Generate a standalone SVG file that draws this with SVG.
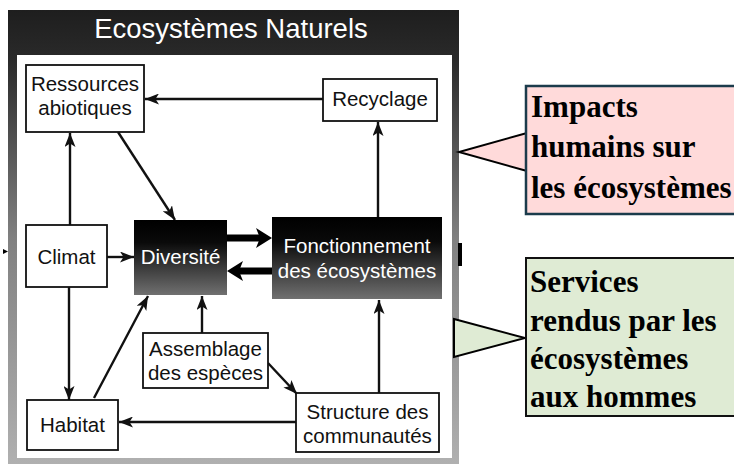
<svg xmlns="http://www.w3.org/2000/svg" width="734" height="464" viewBox="0 0 734 464">
<style>
.box{fill:#fff;stroke:#111;stroke-width:1.8}
.lbl{font-family:"Liberation Sans",Arial,sans-serif;font-size:20.5px;fill:#111;text-anchor:middle}
.wl{font-family:"Liberation Sans",Arial,sans-serif;font-size:20.5px;fill:#fff;text-anchor:middle}
.ln{stroke:#111;stroke-width:2.4;fill:none;marker-end:url(#ah)}
.tk{stroke:#000;stroke-width:7;fill:none;marker-end:url(#ahk)}
.call{font-family:"Liberation Serif","Times New Roman",serif;font-size:31px;font-weight:bold;fill:#000}
</style>
<defs>
<linearGradient id="frame" x1="0" y1="0" x2="0" y2="1">
<stop offset="0" stop-color="#1e1e1e"/>
<stop offset="0.11" stop-color="#2a2a2a"/>
<stop offset="0.5" stop-color="#808080"/>
<stop offset="1" stop-color="#b0b0b0"/>
</linearGradient>
<linearGradient id="dark" x1="0" y1="0" x2="0" y2="1">
<stop offset="0" stop-color="#000"/>
<stop offset="0.3" stop-color="#0a0a0a"/>
<stop offset="1" stop-color="#707070"/>
</linearGradient>
<marker id="ah" viewBox="0 0 14 11" refX="14" refY="5.5" markerWidth="14" markerHeight="11" orient="auto" markerUnits="userSpaceOnUse">
<path d="M0,0 L14,5.5 L0,11 L3.5,5.5 z" fill="#111"/>
</marker>
<marker id="ahk" viewBox="0 0 16 20" refX="8" refY="10" markerWidth="16" markerHeight="20" orient="auto" markerUnits="userSpaceOnUse">
<path d="M0,0 L16,10 L0,20 L4,10 z" fill="#000"/>
</marker>
</defs>
<rect width="734" height="464" fill="#fff"/>

<g id="frame-group">
<rect x="8" y="10" width="451" height="454" fill="url(#frame)"/>
<rect x="17" y="55" width="435" height="403" fill="#fff"/>
<text x="231" y="38" font-family="'Liberation Sans',Arial,sans-serif" font-size="27.5" fill="#fff" text-anchor="middle">Ecosystèmes Naturels</text>
<path d="M3,249 L8,251.5 L3,254 z" fill="#000"/>
<rect x="458" y="243" width="4" height="23" fill="#000"/>
</g>

<g id="connectors">
<line class="ln" x1="323" y1="99" x2="145" y2="99"/>
<line class="ln" x1="378" y1="217" x2="378" y2="122"/>
<line class="ln" x1="118" y1="132" x2="175" y2="220"/>
<line class="ln" x1="70" y1="225" x2="70" y2="133"/>
<line class="ln" x1="107" y1="257" x2="134" y2="257"/>
<line class="ln" x1="69" y1="287" x2="69" y2="400"/>
<line class="ln" x1="94" y1="398" x2="148" y2="296"/>
<line class="ln" x1="202" y1="333" x2="202" y2="296"/>
<line class="ln" x1="268" y1="363" x2="297" y2="394"/>
<line class="ln" x1="379" y1="393" x2="379" y2="300"/>
<line class="ln" x1="296" y1="422" x2="119" y2="422"/>
<line class="tk" x1="227" y1="238" x2="264" y2="238"/>
<line class="tk" x1="272" y1="271" x2="235" y2="271"/>
</g>

<g id="ressources">
<rect class="box" x="26" y="65" width="118" height="67"/>
<text class="lbl" x="85" y="91">Ressources</text>
<text class="lbl" x="85" y="115">abiotiques</text>
</g>
<g id="recyclage">
<rect class="box" x="323" y="79" width="114" height="42"/>
<text class="lbl" x="380" y="106">Recyclage</text>
</g>
<g id="climat">
<rect class="box" x="26" y="225" width="81" height="62"/>
<text class="lbl" x="66.5" y="264">Climat</text>
</g>
<g id="diversite">
<rect x="134" y="220" width="93" height="75" fill="url(#dark)"/>
<text class="wl" x="180.5" y="264">Diversité</text>
</g>
<g id="fonctionnement">
<rect x="272" y="217" width="170" height="82" fill="url(#dark)"/>
<text class="wl" x="357" y="253">Fonctionnement</text>
<text class="wl" x="357" y="278">des écosystèmes</text>
</g>
<g id="assemblage">
<rect class="box" x="143" y="333" width="125" height="55"/>
<text class="lbl" x="205.5" y="356">Assemblage</text>
<text class="lbl" x="205.5" y="380">des espèces</text>
</g>
<g id="habitat">
<rect class="box" x="27" y="400" width="91" height="50"/>
<text class="lbl" x="72.5" y="432">Habitat</text>
</g>
<g id="structure">
<rect class="box" x="296" y="393" width="143" height="59"/>
<text class="lbl" x="367.5" y="419">Structure des</text>
<text class="lbl" x="367.5" y="443">communautés</text>
</g>

<g id="impacts">
<polygon points="459,152 527,133 527,171" fill="#ffdada"/>
<polyline points="527,133 459,152 527,171" fill="none" stroke="#000" stroke-width="2"/>
<rect x="526" y="86" width="212" height="128" fill="#ffdada" stroke="#1b3b4b" stroke-width="2.5"/>
<text class="call" x="531" y="117">Impacts</text>
<text class="call" x="531" y="157">humains sur</text>
<text class="call" x="531" y="198">les écosystèmes</text>
</g>
<g id="services">
<polygon points="454,319 525,338 454,357" fill="#dfebd4" stroke="#000" stroke-width="2"/>
<rect x="526" y="258" width="212" height="158" fill="#dfebd4" stroke="#111" stroke-width="2"/>
<text class="call" x="530" y="292">Services</text>
<text class="call" x="530" y="331">rendus par les</text>
<text class="call" x="530" y="369">écosystèmes</text>
<text class="call" x="530" y="407">aux hommes</text>
</g>
</svg>
